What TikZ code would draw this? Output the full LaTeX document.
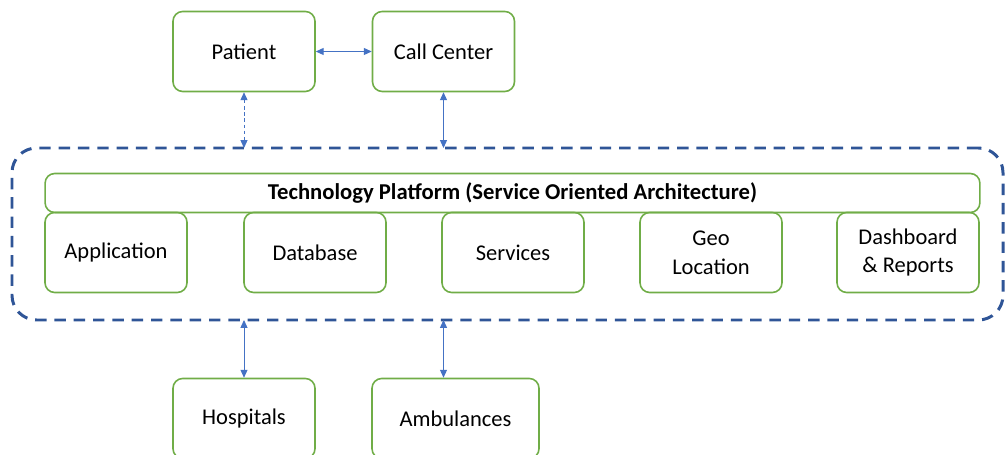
\documentclass[tikz,border=0pt]{standalone}
\usepackage{fontspec}
\setmainfont{Carlito}
\usepackage{xcolor}
\usepackage{tikz}
\usetikzlibrary{positioning,arrows.meta,fit}

\definecolor{boxgreen}{HTML}{70AD47}
\definecolor{linkblue}{HTML}{4472C4}
\definecolor{soablue}{HTML}{2F5597}

\begin{document}
\begin{tikzpicture}[x=0.02cm, y=-0.02cm,
  box/.style={draw=boxgreen, line width=0.9pt, rounded corners=5.5pt, minimum width=2.84cm, minimum height=1.6cm, align=center, font=\fontsize{12.8}{16.4}\selectfont},
  link/.style={draw=linkblue, line width=0.55pt, {Triangle[length=4.5pt,width=4pt]}-{Triangle[length=4.5pt,width=4pt]}}]
  \useasboundingbox (0,0) rectangle (1005,455);

  % Actors on top
  \node[box] (patient) at (244,51.5) {Patient};
  \node[box] (callcenter) at (443.5,51.5) {Call Center};

  % SOA container
  \node[draw=soablue, line width=1.7pt, dash pattern=on 6.5pt off 4.5pt, rounded corners=14pt, inner sep=0pt, outer sep=0pt, fit={(12,148) (1003,320)}] (soa) {};
  \node[box, minimum width=18.7cm, minimum height=0.78cm, font=\bfseries\fontsize{12.9}{15}\selectfont] (platform) at (512.5,193) {Technology Platform (Service Oriented Architecture)};

  % Platform modules
  \node[box] (application) at (116,252.5) {Application};
  \node[box] (database) at (315,252.5) {Database};
  \node[box] (services) at (513,252.5) {Services};
  \node[box] (geo) at (711,252.5) {Geo\\Location};
  \node[box] (dashboard) at (908,252.5) {Dashboard\\\& Reports};

  % Actors below
  \node[box] (hospitals) at (244,418.5) {Hospitals};
  \node[box, minimum width=3.34cm] (ambulances) at (455.5,418.5) {Ambulances};

  % Links
  \draw[link] (patient) -- (callcenter);
  \draw[link, dash pattern=on 2pt off 1.5pt] (patient.south) -- (patient.south |- soa.north);
  \draw[link] (callcenter.south) -- (callcenter.south |- soa.north);
  \draw[link] (hospitals.north |- soa.south) -- (hospitals.north);
  \draw[link] (callcenter.south |- soa.south) -- (callcenter.south |- ambulances.north);
\end{tikzpicture}
\end{document}
